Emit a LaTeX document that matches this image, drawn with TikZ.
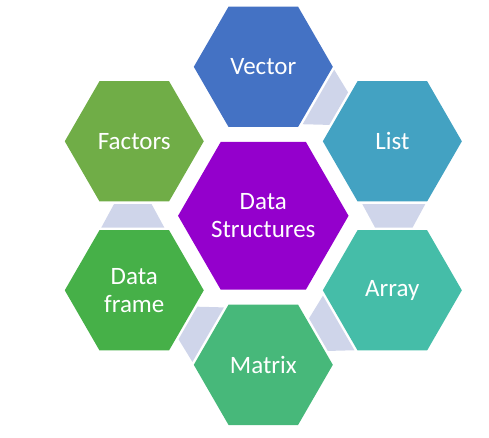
\documentclass[tikz,border=0pt]{standalone}
\usepackage{fontspec}
\setmainfont{Carlito}
\usetikzlibrary{shapes.geometric,calc}
\definecolor{cVector}{HTML}{4472C4}
\definecolor{cList}{HTML}{43A2C2}
\definecolor{cArray}{HTML}{45BDA8}
\definecolor{cMatrix}{HTML}{47B87A}
\definecolor{cFrame}{HTML}{46B048}
\definecolor{cFactors}{HTML}{70AD47}
\definecolor{cCenter}{HTML}{9400CC}
\definecolor{cLink}{HTML}{CFD5EA}
\tikzset{
  hexbox/.style={regular polygon, regular polygon sides=6, minimum size=139pt,
    inner sep=0pt, outer sep=0pt, draw=none, text=white, align=center,
    font=\fontsize{25}{28}\selectfont},
  bighex/.style={hexbox, minimum size=169.4pt},
  linkshape/.style={fill=cLink, draw=none}
}
\begin{document}
\begin{tikzpicture}[x=1pt,y=1pt]
\useasboundingbox (0,0) rectangle (489,-437);
\coordinate (C) at (263.3,-215.8);
% connectors
\foreach \a in {60,0,-60,-120,180}{
  \fill[linkshape, shift={(C)}, rotate=\a] (99,11.7) -- (162,11.7) -- (149.3,-11.7) -- (111.7,-11.7) -- cycle;
}
% hexagons
\node[bighex, fill=cCenter] (center) at (C) {Data\\Structures};
\node[hexbox, fill=cVector]  (vector)  at ($(C)+(90:149)$)   {Vector};
\node[hexbox, fill=cList]    (list)    at ($(C)+(30:149)$)   {List};
\node[hexbox, fill=cArray]   (array)   at ($(C)+(-30:149)$)  {Array};
\node[hexbox, fill=cMatrix]  (matrix)  at ($(C)+(-90:149)$)  {Matrix};
\node[hexbox, fill=cFrame]   (frame)   at ($(C)+(-150:149)$) {Data\\frame};
\node[hexbox, fill=cFactors] (factors) at ($(C)+(150:149)$)  {Factors};
\end{tikzpicture}
\end{document}
